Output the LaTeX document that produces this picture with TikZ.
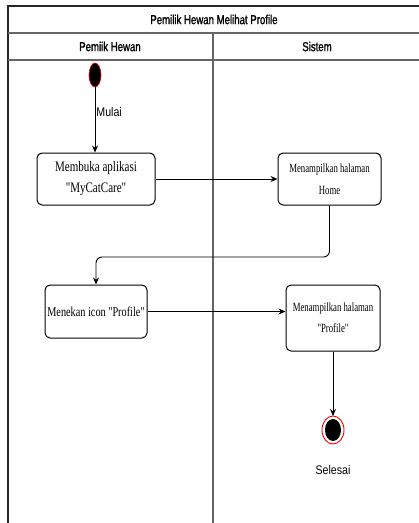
\documentclass[tikz,border=0pt]{standalone}
\usepackage{fontspec}
\setmainfont{Liberation Serif}
\newfontfamily\headfont[FakeStretch=0.74,FakeBold=1.2]{Liberation Sans}
\newfontfamily\boxfont[FakeStretch=0.76]{Liberation Serif}
\newfontfamily\smallboxfont[FakeStretch=0.7]{Liberation Serif}
\newfontfamily\labelfont[FakeStretch=0.85]{Liberation Sans}
\usetikzlibrary{arrows.meta}
\begin{document}
\begin{tikzpicture}[x=1pt,y=-1pt,
  frameline/.style={line width=1.3pt,draw=black!85},
  laneline/.style={line width=1.1pt,draw=black!60},
  action/.style={draw,rounded corners=5pt,line width=1pt,align=center,inner sep=2pt},
  flow/.style={line width=0.9pt,-{Stealth[length=7pt,width=6pt]}},
]
\useasboundingbox (0,0) rectangle (419,523);
\fill[white] (0,0) rectangle (419,523);

% swimlane frame
\draw[frameline] (8,530) -- (8,6) -- (430,6);
\draw[laneline] (8,33) -- (430,33);
\draw[laneline] (8,60) -- (430,60);
\draw[laneline] (213,33) -- (213,530);
\node[font=\headfont\fontsize{13}{15}\selectfont] (title) at (214,19.5) {Pemilik Hewan Melihat Profile};
\node[font=\headfont\fontsize{13}{15}\selectfont] (laneA) at (110,46.5) {Pemiik Hewan};
\node[font=\headfont\fontsize{13}{15}\selectfont] (laneB) at (317,46.5) {Sistem};

% start
\fill[black,draw=red,line width=0.6pt] (95,75) ellipse [x radius=6, y radius=12];
\coordinate (start) at (95,87);

% actions
\node[action,minimum width=118pt,minimum height=52pt,font=\boxfont\fontsize{14.5}{21}\selectfont] (open) at (96,179) {Membuka aplikasi\\"MyCatCare"};
\node[action,minimum width=103pt,minimum height=52pt,font=\smallboxfont\fontsize{12.5}{21.5}\selectfont] (home) at (329.5,179) {Menampilkan halaman\\Home};
\node[action,minimum width=102pt,minimum height=53pt,font=\boxfont\fontsize{13.5}{16}\selectfont] (tap) at (96,311.5) {Menekan icon "Profile"};
\node[action,minimum width=94pt,minimum height=66pt,font=\smallboxfont\fontsize{12.5}{21}\selectfont] (profile) at (333,318) {Menampilkan halaman\\"Profile"};

% end
\fill[white,draw=red,line width=0.9pt] (333,430) ellipse [x radius=11, y radius=14];
\fill[black] (333,430) ellipse [x radius=8, y radius=11];
\coordinate (endtop) at (333,416);
\node[font=\labelfont\fontsize{12.5}{14}\selectfont] (endlabel) at (333,470) {Selesai};

% flows
\coordinate (bend) at (96,257);
\draw[flow] (start) -- node[right,pos=0.38,inner sep=1pt,font=\labelfont\fontsize{12.5}{14}\selectfont] (mulai) {Mulai} (open.north -| start);
\draw[flow] (open.east) -- (home.west);
\draw[flow,rounded corners=6pt] (home.south) |- (bend) -- (tap.north);
\draw[flow] (tap.east) -- (profile.west |- tap.east);
\draw[flow] (profile.south) -- (endtop);
\end{tikzpicture}
\end{document}
